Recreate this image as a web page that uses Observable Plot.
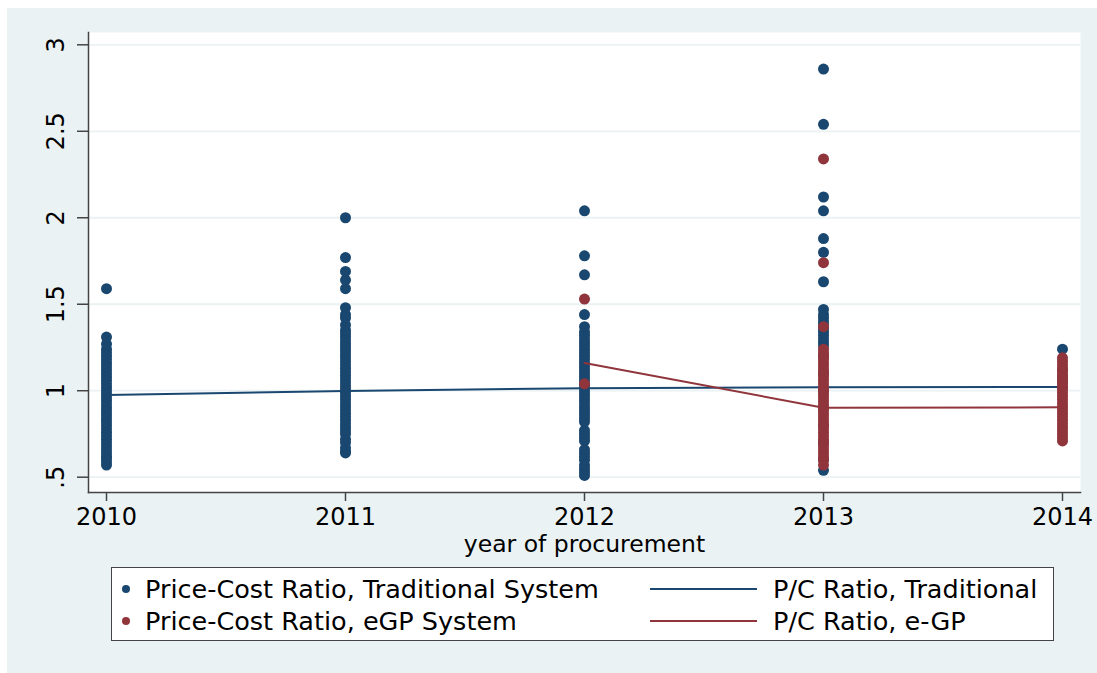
<!DOCTYPE html>
<html>
<head>
<meta charset="utf-8">
<script src="https://cdn.jsdelivr.net/npm/d3@7"></script>
<script src="https://cdn.jsdelivr.net/npm/@observablehq/plot@0.6"></script>
<style>
  html, body { margin: 0; padding: 0; background: #ffffff; width: 1097px; height: 673px; overflow: hidden; }
  #bg { position: absolute; left: 7px; top: 8px; right: 0; bottom: 0; background: #eaf2f3; }
  #chart { position: absolute; left: 0; top: 0; }
  #legend { position: absolute; left: 111px; top: 567px; width: 943px; height: 74px; background: #fff;
            border: 1px solid #444; box-sizing: border-box; font-family: "DejaVu Sans", sans-serif; font-size: 25.5px; color: #000; }
  .item { position: absolute; display: flex; align-items: center; height: 30px; white-space: nowrap; }
  .dot { width: 8px; height: 8px; border-radius: 50%; margin-right: 15px; }
  .line { width: 107px; height: 2px; margin-right: 16px; }
</style>
</head>
<body>
<div id="bg"></div>
<div id="chart"></div>
<div id="legend"></div>
<script>
// ---- data ----
const years = [2010, 2011, 2012, 2013, 2014];
const yTicks = [0.5, 1, 1.5, 2, 2.5, 3];
const yTickLabels = [".5", "1", "1.5", "2", "2.5", "3"];

const trad2010 = [0.57,0.59,0.61,0.62,0.64,0.66,0.68,0.70,0.72,0.74,0.76,0.78,0.80,0.82,0.84,0.86,0.88,0.90,0.92,0.94,0.96,0.98,1.00,1.02,1.04,1.06,1.08,1.10,1.12,1.14,1.16,1.18,1.20,1.22,1.24,1.27,1.31,1.59];
const trad2011 = [0.64,0.65,0.67,0.70,0.72,0.75,0.77,0.79,0.81,0.83,0.85,0.87,0.89,0.91,0.93,0.95,0.97,0.99,1.01,1.03,1.05,1.07,1.09,1.11,1.13,1.15,1.17,1.19,1.21,1.23,1.25,1.27,1.29,1.31,1.33,1.35,1.38,1.42,1.44,1.48,1.59,1.64,1.69,1.77,2.00];
const trad2012 = [0.51,0.53,0.55,0.57,0.60,0.62,0.64,0.66,0.71,0.73,0.75,0.77,0.82,0.84,0.86,0.88,0.90,0.92,0.94,0.96,0.98,1.00,1.02,1.04,1.06,1.08,1.10,1.12,1.14,1.16,1.18,1.20,1.22,1.24,1.26,1.28,1.30,1.32,1.34,1.37,1.44,1.67,1.78,2.04];
const trad2013 = [0.54,0.60,0.70,0.80,0.90,1.00,1.10,1.20,1.26,1.28,1.30,1.32,1.34,1.36,1.38,1.40,1.42,1.44,1.47,1.63,1.80,1.88,2.04,2.12,2.54,2.86];
const trad2014 = [1.02,1.05,1.08,1.12,1.24];

const egp2012 = [1.04,1.53];
const egp2013 = [0.57,0.60,0.62,0.64,0.66,0.68,0.70,0.72,0.74,0.76,0.78,0.80,0.82,0.84,0.86,0.88,0.90,0.92,0.94,0.96,0.98,1.00,1.02,1.04,1.06,1.08,1.10,1.12,1.14,1.16,1.18,1.20,1.22,1.24,1.37,1.74,2.34];
const egp2014 = [0.71,0.73,0.75,0.77,0.79,0.81,0.83,0.85,0.87,0.89,0.91,0.93,0.95,0.97,0.99,1.01,1.03,1.05,1.07,1.09,1.11,1.13,1.15,1.17,1.19];

const tradMeanYears = [2010, 2011, 2012, 2013, 2014];
const tradMean = [0.975, 0.998, 1.015, 1.02, 1.022];
const egpMeanYears = [2012, 2013, 2014];
const egpMean = [1.16, 0.902, 0.904];

const legendLabels = ["Price-Cost Ratio, Traditional System", "Price-Cost Ratio, eGP System", "P/C Ratio, Traditional", "P/C Ratio, e-GP"];

const BLUE = "#1a476f", RED = "#90353b";

// ---- tables ----
const toRows = (year, vals) => vals.map(v => ({year, value: v}));
const tradPts = [].concat(toRows(2010, trad2010), toRows(2011, trad2011), toRows(2012, trad2012), toRows(2013, trad2013), toRows(2014, trad2014));
const egpPts = [].concat(toRows(2012, egp2012), toRows(2013, egp2013), toRows(2014, egp2014));
const tradLine = tradMeanYears.map((y, i) => ({year: y, value: tradMean[i]}));
const egpLine = egpMeanYears.map((y, i) => ({year: y, value: egpMean[i]}));
const yLab = yTicks.map((v, i) => ({v, label: yTickLabels[i]}));

const plot = Plot.plot({
  width: 1097,
  height: 560,
  marginLeft: 88,
  marginRight: 17,
  marginTop: 32,
  marginBottom: 68,
  style: {background: "transparent", fontFamily: "DejaVu Sans, sans-serif", fontSize: "24px", color: "#000"},
  x: {domain: [2010, 2014], range: [106, 1062]},
  y: {domain: [0.5, 3], range: [476.7, 44.3]},
  marks: [
    Plot.frame({fill: "#ffffff", stroke: null}),
    Plot.gridY(yTicks, {stroke: "#eaf2f3", strokeOpacity: 1, strokeWidth: 1.8}),
    Plot.dot(tradPts, {x: "year", y: "value", r: 5.5, fill: BLUE, stroke: null}),
    Plot.line(tradLine, {x: "year", y: "value", stroke: BLUE, strokeWidth: 2}),
    Plot.dot(egpPts, {x: "year", y: "value", r: 5.5, fill: RED, stroke: null}),
    Plot.line(egpLine, {x: "year", y: "value", stroke: RED, strokeWidth: 2}),
    Plot.frame({anchor: "left", stroke: "#444", strokeWidth: 1.5}),
    Plot.frame({anchor: "bottom", stroke: "#444", strokeWidth: 1.5}),
    Plot.axisY(yTicks, {tickSize: 11, tickFormat: () => "", label: null, stroke: "#444", strokeWidth: 1.5}),
    Plot.axisX(years, {tickSize: 9, tickPadding: 6, tickFormat: d => String(d), label: null, fontSize: 24, fill: "#000", stroke: "#444", strokeWidth: 1.5}),
    Plot.text(yLab, {y: "v", text: "label", frameAnchor: "left", dx: -32, rotate: -90, textAnchor: "middle", lineAnchor: "middle", fontSize: 24, fill: "#000"}),
    Plot.text(["year of procurement"], {text: d => d, frameAnchor: "bottom", dy: 59, lineAnchor: "bottom", textAnchor: "middle", fontSize: 23.5, fill: "#000"})
  ]
});
document.getElementById("chart").appendChild(plot);

// ---- legend (HTML) ----
const legend = document.getElementById("legend");
const items = [
  {kind: "dot", color: BLUE, label: legendLabels[0], left: 10, top: 6},
  {kind: "dot", color: RED, label: legendLabels[1], left: 10, top: 38},
  {kind: "line", color: BLUE, label: legendLabels[2], left: 538, top: 6},
  {kind: "line", color: RED, label: legendLabels[3], left: 538, top: 38}
];
for (const it of items) {
  const d = document.createElement("div");
  d.className = "item";
  d.style.left = it.left + "px";
  d.style.top = it.top + "px";
  const m = document.createElement("span");
  m.className = it.kind;
  m.style.background = it.color;
  d.appendChild(m);
  const t = document.createElement("span");
  t.textContent = it.label;
  d.appendChild(t);
  legend.appendChild(d);
}
</script>
</body>
</html>
